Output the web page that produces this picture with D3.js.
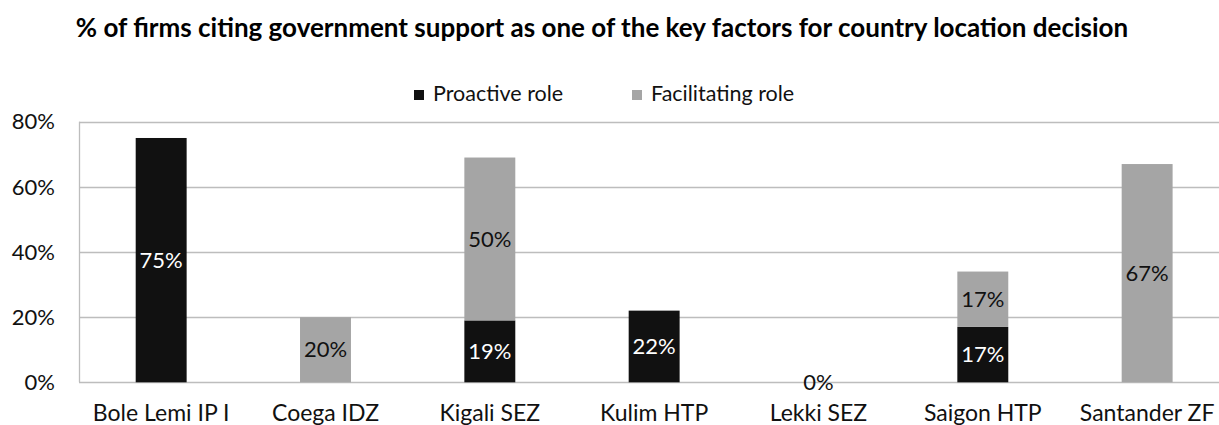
<!DOCTYPE html>
<html>
<head>
<meta charset="utf-8">
<script src="https://cdn.jsdelivr.net/npm/d3@7"></script>
<style>
  body { margin: 0; background: #fff; }
  svg { display: block; font-family: Lato, "Open Sans", sans-serif; }
</style>
</head>
<body>
<svg width="1219" height="425"></svg>
<script>
var categories = ["Bole Lemi IP I", "Coega IDZ", "Kigali SEZ", "Kulim HTP", "Lekki SEZ", "Saigon HTP", "Santander ZF"];
var proactive = [0.75, 0, 0.19, 0.22, 0, 0.17, 0];
var facilitating = [0, 0.20, 0.50, 0, 0, 0.17, 0.67];
var seriesNames = ["Proactive role", "Facilitating role"];
var yTicks = [0, 0.2, 0.4, 0.6, 0.8];

var colors = ["#111111", "#a5a5a5"];
var labelColors = ["#ffffff", "#111111"];

var svg = d3.select("svg");
var plotLeft = 79, plotRight = 1229.3, plotTop = 121.7, plotBottom = 382.3;

var x = d3.scaleBand().domain(categories).range([plotLeft, plotRight])
  .paddingInner(0.69).paddingOuter(0.345);
var y = d3.scaleLinear().domain([0, 0.8]).range([plotBottom, plotTop]);

// title
svg.append("text")
  .attr("x", 602).attr("y", 37)
  .attr("text-anchor", "middle")
  .attr("font-weight", "bold")
  .attr("font-size", 26)
  .attr("fill", "#000")
  .text("% of firms citing government support as one of the key factors for country location decision");

// gridlines
svg.append("g")
  .selectAll("line")
  .data(yTicks)
  .enter().append("line")
  .attr("x1", plotLeft).attr("x2", plotRight)
  .attr("y1", function(d) { return Math.round(y(d)) + 0.5; })
  .attr("y2", function(d) { return Math.round(y(d)) + 0.5; })
  .attr("stroke", "#bdbdbd").attr("stroke-width", 1.3);

svg.append("line")
  .attr("x1", plotLeft + 0.5).attr("x2", plotLeft + 0.5)
  .attr("y1", y(0.8)).attr("y2", y(0))
  .attr("stroke", "#bdbdbd").attr("stroke-width", 1.3);

// y tick labels
svg.append("g")
  .selectAll("text")
  .data(yTicks)
  .enter().append("text")
  .attr("x", 55)
  .attr("y", function(d) { return y(d); })
  .attr("dy", "0.35em")
  .attr("text-anchor", "end")
  .attr("font-size", 22)
  .attr("fill", "#111")
  .text(d3.format(".0%"));

// stacked data
var rows = categories.map(function(c, i) {
  return {cat: c, proactive: proactive[i], facilitating: facilitating[i]};
});
var stack = d3.stack().keys(["proactive", "facilitating"])(rows);

stack.forEach(function(layer, k) {
  svg.append("g")
    .selectAll("rect")
    .data(layer)
    .enter().append("rect")
    .attr("x", function(d) { return x(d.data.cat); })
    .attr("width", x.bandwidth())
    .attr("y", function(d) { return y(d[1]); })
    .attr("height", function(d) { return y(d[0]) - y(d[1]); })
    .attr("fill", colors[k]);
});

stack.forEach(function(layer, k) {
  svg.append("g")
    .selectAll("text")
    .data(layer.filter(function(d) { return d[1] - d[0] > 0; }))
    .enter().append("text")
    .attr("x", function(d) { return x(d.data.cat) + x.bandwidth() / 2; })
    .attr("y", function(d) { return (y(d[0]) + y(d[1])) / 2; })
    .attr("dy", "0.35em")
    .attr("text-anchor", "middle")
    .attr("font-size", 22)
    .attr("fill", labelColors[k])
    .text(function(d) { return d3.format(".0%")(d[1] - d[0]); });
});

// zero label for Lekki SEZ (no bars)
rows.forEach(function(r) {
  if (r.proactive + r.facilitating === 0) {
    svg.append("text")
      .attr("x", x(r.cat) + x.bandwidth() / 2)
      .attr("y", y(0))
      .attr("dy", "0.35em")
      .attr("text-anchor", "middle")
      .attr("font-size", 22)
      .attr("fill", "#111")
      .text("0%");
  }
});

// x labels
svg.append("g")
  .selectAll("text")
  .data(categories)
  .enter().append("text")
  .attr("x", function(d) { return x(d) + x.bandwidth() / 2; })
  .attr("y", 421)
  .attr("text-anchor", "middle")
  .attr("font-size", 23)
  .attr("fill", "#111")
  .text(function(d) { return d; });

// legend
var legendX = [414, 632];
seriesNames.forEach(function(name, k) {
  svg.append("rect")
    .attr("x", legendX[k]).attr("y", 90)
    .attr("width", 10).attr("height", 10)
    .attr("fill", colors[k]);
  svg.append("text")
    .attr("x", legendX[k] + 19).attr("y", 101)
    .attr("font-size", 21.5)
    .attr("fill", "#111")
    .text(name);
});
</script>
</body>
</html>
